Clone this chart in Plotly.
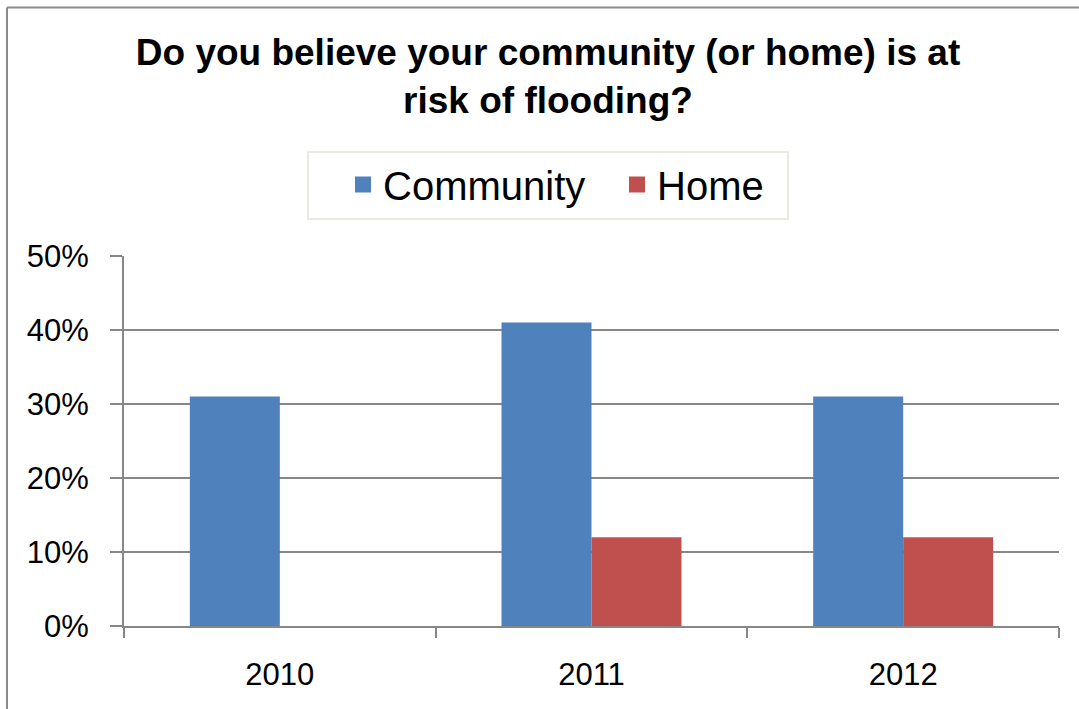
import plotly.graph_objects as go

years = ["2010", "2011", "2012"]
community = [0.31, 0.41, 0.31]
home = [None, 0.12, 0.12]
y_ticks = [0, 0.1, 0.2, 0.3, 0.4, 0.5]
y_labels = ["0%", "10%", "20%", "30%", "40%", "50%"]
series_names = ["Community", "Home"]
series_colors = ["#4F81BD", "#C0504D"]

W, H = 1079, 709
L, R, T, B = 124, 20, 256, 83
pw, ph = W - L - R, H - T - B

def px_x(px):
    return (px - L) / pw

def px_y(py):
    return (H - B - py) / ph

FONT = "Liberation Sans, Arial, sans-serif"
GRID = "#878787"

fig = go.Figure()
for name, vals, col in zip(series_names, [community, home], series_colors):
    fig.add_trace(go.Bar(name=name, x=years, y=vals, showlegend=False,
                         marker=dict(color=col, line=dict(width=0))))
# legend entries (larger square swatches)
for name, col in zip(series_names, series_colors):
    fig.add_trace(go.Scatter(name=name, x=[None], y=[None], mode="markers",
                             marker=dict(symbol="square", size=24, color=col)))

fig.update_layout(
    width=W, height=H,
    margin=dict(l=L, r=R, t=T, b=B),
    paper_bgcolor="white", plot_bgcolor="white",
    barmode="group", bargap=0.4225, bargroupgap=0,
    font=dict(family=FONT, color="black"),
    title=dict(
        text="<b>Do you believe your community (or home) is at<br>risk of flooding?</b>",
        x=px_x(548), xref="paper", xanchor="center",
        y=1 - 65 / H, yref="container", yanchor="top",
        font=dict(family=FONT, size=37, color="black"),
    ),
    legend=dict(
        orientation="h", x=px_x(343), xanchor="left", y=px_y(152), yanchor="top",
        borderwidth=0, bgcolor="rgba(0,0,0,0)",
        font=dict(family=FONT, size=40, color="black"),
        traceorder="normal", itemsizing="trace",
        entrywidth=229, entrywidthmode="pixels",
    ),
    xaxis=dict(
        type="category", showline=True, linecolor=GRID, linewidth=2,
        ticks="outside", ticklen=10, tickwidth=2, tickcolor=GRID, tickson="boundaries",
        tickfont=dict(family=FONT, size=31, color="black"), ticklabelstandoff=20,
        showgrid=False,
    ),
    yaxis=dict(
        range=[0, 0.5], tickvals=y_ticks, ticktext=y_labels,
        showline=True, linecolor=GRID, linewidth=2,
        ticks="outside", ticklen=12, tickwidth=2, tickcolor=GRID,
        showgrid=True, gridcolor=GRID, gridwidth=1.5, zeroline=False,
        tickfont=dict(family=FONT, size=31, color="black"), ticklabelstandoff=15,
    ),
    shapes=[
        # legend frame
        dict(type="rect", xref="paper", yref="paper", x0=px_x(308), x1=px_x(788), y0=px_y(219), y1=px_y(152),
             line=dict(color="#E4E1D6", width=1.5), fillcolor="rgba(0,0,0,0)", layer="below"),
        # chart-area frame (left and top edges)
        dict(type="line", xref="paper", yref="paper", x0=px_x(7), x1=px_x(7), y0=px_y(720), y1=px_y(7.5),
             line=dict(color="#8A8A8A", width=2)),
        dict(type="line", xref="paper", yref="paper", x0=px_x(7), x1=px_x(1090), y0=px_y(7.5), y1=px_y(7.5),
             line=dict(color="#8A8A8A", width=2)),
    ],
)

fig.write_html("out.html")
